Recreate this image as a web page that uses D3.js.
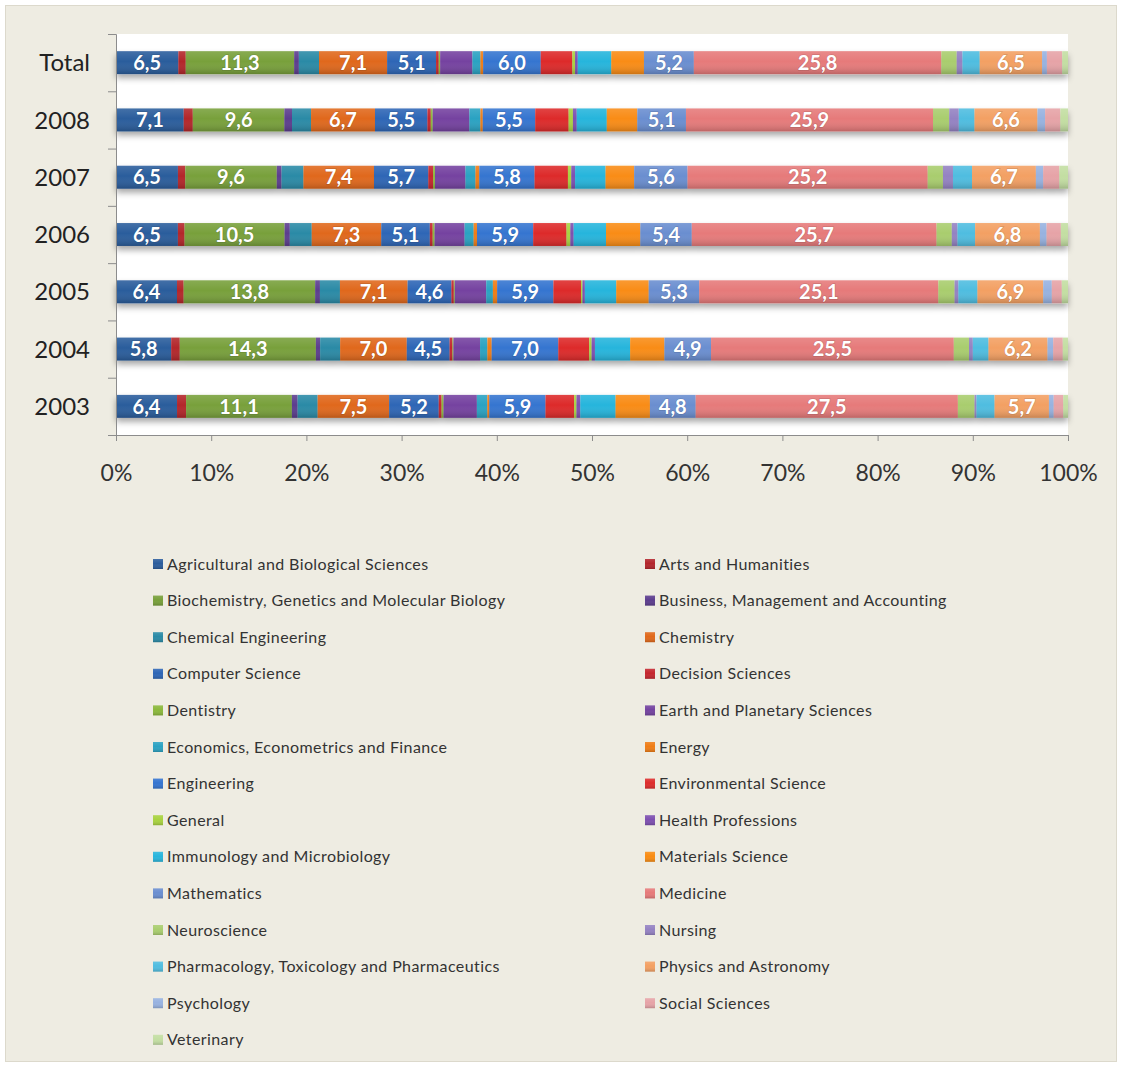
<!DOCTYPE html>
<html>
<head>
<meta charset="utf-8">
<script src="https://cdn.jsdelivr.net/npm/d3@7"></script>
<style>
  body { margin: 0; background: #fff; }
  svg { display: block; font-family: Lato, "Open Sans", sans-serif; }
</style>
</head>
<body>
<div id="chart"></div>
<script>
// Row labels (top to bottom)
const rowLabels = ['Total', '2008', '2007', '2006', '2005', '2004', '2003'];

// Subject areas, in stacking order
const categories = [
    'Agricultural and Biological Sciences', 'Arts and Humanities',
    'Biochemistry, Genetics and Molecular Biology', 'Business, Management and Accounting',
    'Chemical Engineering', 'Chemistry',
    'Computer Science', 'Decision Sciences',
    'Dentistry', 'Earth and Planetary Sciences',
    'Economics, Econometrics and Finance', 'Energy',
    'Engineering', 'Environmental Science',
    'General', 'Health Professions',
    'Immunology and Microbiology', 'Materials Science',
    'Mathematics', 'Medicine',
    'Neuroscience', 'Nursing',
    'Pharmacology, Toxicology and Pharmaceutics', 'Physics and Astronomy',
    'Psychology', 'Social Sciences',
    'Veterinary'
];

const colors = [
    '#2c5d9c', '#b3262c', '#78a03a', '#5c3d8e', '#2a8aa6', '#e0681a',
    '#2e66b6', '#c4262e', '#8bb83b', '#7443a0', '#2ba2c2', '#ef7d16',
    '#3474d0', '#dd2c2c', '#a8d23f', '#7d4fb0', '#27b5dc', '#f98c12',
    '#6a8ed0', '#e67a7a', '#a9cd6e', '#9482c2', '#50bde0', '#f3a063',
    '#97b2e0', '#e6a3a7', '#c3dea2'
];

// Share (%) per subject area, one array per row
const valuesTotal = [6.5, 0.77, 11.3, 0.49, 2.1, 7.1, 5.1, 0.28, 0.15, 3.36, 0.84, 0.28, 6.0, 3.3, 0.28, 0.28, 3.5, 3.4, 5.2, 25.8, 1.6, 0.6, 1.8, 6.5, 0.5, 1.6, 0.6];
const values2008  = [7.1, 0.95, 9.6, 0.8, 2.0, 6.7, 5.5, 0.35, 0.2, 3.85, 1.15, 0.25, 5.5, 3.5, 0.45, 0.4, 3.15, 3.2, 5.1, 25.9, 1.7, 1.0, 1.65, 6.6, 0.8, 1.6, 0.8];
const values2007  = [6.5, 0.77, 9.6, 0.5, 2.3, 7.4, 5.7, 0.5, 0.2, 3.2, 1.05, 0.4, 5.8, 3.5, 0.35, 0.4, 3.2, 3.0, 5.6, 25.2, 1.6, 1.05, 2.0, 6.7, 0.77, 1.7, 0.9];
const values2006  = [6.5, 0.7, 10.5, 0.55, 2.3, 7.3, 5.1, 0.3, 0.2, 3.15, 0.95, 0.35, 5.9, 3.5, 0.4, 0.35, 3.4, 3.6, 5.4, 25.7, 1.6, 0.6, 1.85, 6.8, 0.7, 1.5, 0.75];
const values2005  = [6.4, 0.7, 13.8, 0.5, 2.1, 7.1, 4.6, 0.25, 0.1, 3.3, 0.7, 0.45, 5.9, 2.9, 0.15, 0.25, 3.3, 3.4, 5.3, 25.1, 1.7, 0.4, 2.0, 6.9, 0.9, 1.05, 0.65];
const values2004  = [5.8, 0.9, 14.3, 0.45, 2.1, 7.0, 4.5, 0.3, 0.1, 2.8, 0.77, 0.45, 7.0, 3.25, 0.25, 0.35, 3.7, 3.6, 4.9, 25.5, 1.6, 0.4, 1.65, 6.2, 0.6, 1.0, 0.55];
const values2003  = [6.4, 0.95, 11.1, 0.6, 2.1, 7.5, 5.2, 0.3, 0.2, 3.5, 1.1, 0.2, 5.9, 3.0, 0.25, 0.4, 3.7, 3.6, 4.8, 27.5, 1.75, 0.2, 1.9, 5.7, 0.5, 1.0, 0.5];

const rowValues = [valuesTotal, values2008, values2007, values2006, values2005, values2004, values2003];

// Table for d3.stack: one object per row
const table = rowLabels.map((label, r) => {
    const row = { label: label };
    categories.forEach((c, i) => { row[c] = rowValues[r][i]; });
    return row;
});

const width = 1122;
const height = 1067;

const svg = d3.select('#chart')
    .append('svg')
    .attr('width', width)
    .attr('height', height);

const defs = svg.append('defs');

// Soft drop shadow under the bars
const shadow = defs.append('filter')
    .attr('id', 'shadow')
    .attr('x', '-5%').attr('y', '-50%')
    .attr('width', '110%').attr('height', '220%');
shadow.append('feDropShadow')
    .attr('dx', 0).attr('dy', 4)
    .attr('stdDeviation', 3)
    .attr('flood-color', '#000')
    .attr('flood-opacity', 0.35);

// Light top / dark bottom gloss on bars
const gloss = defs.append('linearGradient')
    .attr('id', 'gloss')
    .attr('x1', 0).attr('y1', 0).attr('x2', 0).attr('y2', 1);
gloss.append('stop').attr('offset', '0%').attr('stop-color', '#fff').attr('stop-opacity', 0.12);
gloss.append('stop').attr('offset', '45%').attr('stop-color', '#fff').attr('stop-opacity', 0.0);
gloss.append('stop').attr('offset', '100%').attr('stop-color', '#000').attr('stop-opacity', 0.18);

// Chart background and frame
svg.append('rect')
    .attr('width', width).attr('height', height)
    .attr('fill', '#fff');
svg.append('rect')
    .attr('x', 5.5).attr('y', 5.5)
    .attr('width', 1111).attr('height', 1056)
    .attr('fill', '#eeece2')
    .attr('stroke', '#dcd9cc');

const margin = { top: 34, left: 116, right: 54, bottom: 632 };
const plotRight = width - margin.right;
const plotBottom = height - margin.bottom;

// Plot area
svg.append('rect')
    .attr('x', margin.left).attr('y', margin.top)
    .attr('width', plotRight - margin.left)
    .attr('height', plotBottom - margin.top)
    .attr('fill', '#fff');

const x = d3.scaleLinear()
    .domain([0, 1])
    .range([margin.left, plotRight]);

const y = d3.scaleBand()
    .domain(rowLabels)
    .range([margin.top, plotBottom])
    .paddingInner(0.6)
    .paddingOuter(0.3);

const stack = d3.stack()
    .keys(categories)
    .offset(d3.stackOffsetExpand);
const series = stack(table);

const color = d3.scaleOrdinal().domain(categories).range(colors);

// Bars, one group per row so the shadow falls under the whole bar
const rowsG = svg.append('g');
rowLabels.forEach((label, r) => {
    const g = rowsG.append('g').attr('filter', 'url(#shadow)');
    g.selectAll('rect.seg')
        .data(series.map(s => ({ key: s.key, d: s[r] })))
        .enter()
        .append('rect')
        .attr('class', 'seg')
        .attr('x', s => x(s.d[0]))
        .attr('y', y(label))
        .attr('width', s => Math.max(0, x(s.d[1]) - x(s.d[0])))
        .attr('height', y.bandwidth())
        .attr('fill', s => color(s.key));
    rowsG.append('rect')
        .attr('x', x(0))
        .attr('y', y(label))
        .attr('width', x(1) - x(0))
        .attr('height', y.bandwidth())
        .attr('fill', 'url(#gloss)');
});

// Data labels for the larger segments
const fmt = v => d3.format('.1f')(v).replace('.', ',');
const labels = [];
series.forEach((s, i) => {
    s.forEach((d, r) => {
        const v = rowValues[r][i];
        if (v >= 4.5) labels.push({ x: (x(d[0]) + x(d[1])) / 2, y: y(rowLabels[r]) + y.bandwidth() / 2, v: v });
    });
});
svg.append('g')
    .selectAll('text')
    .data(labels)
    .enter()
    .append('text')
    .attr('x', d => d.x)
    .attr('y', d => d.y)
    .attr('dy', '0.36em')
    .attr('text-anchor', 'middle')
    .style('font-size', '20px')
    .style('font-weight', 'bold')
    .style('fill', '#fff')
    .style('paint-order', 'stroke')
    .style('stroke', 'rgba(0,0,0,0.12)')
    .style('stroke-width', '1.5px')
    .text(d => fmt(d.v));

// Left axis: line with ticks at row boundaries
const yEdges = d3.scaleLinear().domain([0, rowLabels.length]).range([margin.top, plotBottom]);
const leftAxis = svg.append('g')
    .attr('transform', `translate(${margin.left},0)`)
    .call(d3.axisLeft(yEdges).ticks(rowLabels.length).tickFormat('').tickSize(8).tickSizeOuter(8));
leftAxis.selectAll('path, line').attr('stroke', '#8c8c8c');

svg.append('g')
    .selectAll('text')
    .data(rowLabels)
    .enter()
    .append('text')
    .attr('x', 90)
    .attr('y', d => y(d) + y.bandwidth() / 2)
    .attr('dy', '0.36em')
    .attr('text-anchor', 'end')
    .style('font-size', '24px')
    .style('fill', '#222')
    .text(d => d);

// Bottom axis
const bottomAxis = svg.append('g')
    .attr('transform', `translate(0,${plotBottom})`)
    .call(d3.axisBottom(x).ticks(10).tickFormat(d3.format('.0%')).tickSize(6).tickSizeOuter(6).tickPadding(24));
bottomAxis.selectAll('path, line').attr('stroke', '#8c8c8c');
bottomAxis.selectAll('text')
    .style('font-size', '23px')
    .style('font-family', 'Lato, "Open Sans", sans-serif')
    .style('fill', '#333');

// Legend, two columns, row-major order
const legendTop = 564;
const legendStep = 36.6;
const legend = svg.append('g');
const items = legend.selectAll('g')
    .data(categories)
    .enter()
    .append('g')
    .attr('transform', (d, i) => `translate(${i % 2 === 0 ? 153 : 645},${legendTop + Math.floor(i / 2) * legendStep})`);
items.append('rect')
    .attr('x', 0).attr('y', -5)
    .attr('width', 10).attr('height', 10)
    .attr('fill', d => color(d));
items.append('rect')
    .attr('x', 0).attr('y', -5)
    .attr('width', 10).attr('height', 10)
    .attr('fill', 'url(#gloss)');
items.append('text')
    .attr('x', 14)
    .attr('dy', '0.35em')
    .style('font-size', '16px')
    .style('letter-spacing', '0.4px')
    .style('fill', '#333')
    .text(d => d);
</script>
</body>
</html>
